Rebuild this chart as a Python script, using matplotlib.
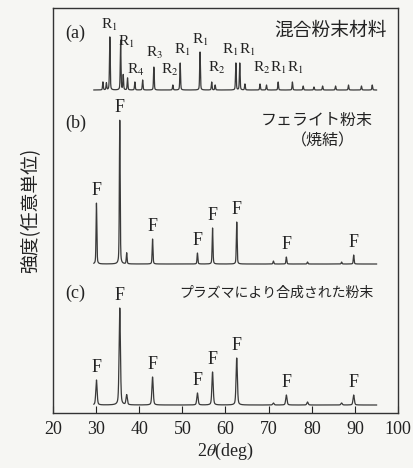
import numpy as np
import matplotlib.pyplot as plt

plt.rcParams['font.family'] = ['Liberation Serif', 'Noto Sans CJK JP']
plt.rcParams['mathtext.fontset'] = 'stix'

# 2theta range of the scans
two_theta = np.linspace(29.5, 95, 4000)

# (a) mixed powder: peak positions (deg) and heights
pos_a = [31.6, 32.4, 33.2, 35.7, 36.3, 37.3, 39.0, 40.8, 43.4, 47.8, 49.5, 54.1,
         56.8, 57.6, 62.4, 63.3, 64.5, 68.0, 69.5, 72.2, 75.5, 78.0, 80.5, 82.5,
         85.5, 88.5, 91.5, 94.0]
h_a = [8, 7, 53, 50, 15, 12, 8, 10, 23, 5, 27, 38,
       8, 5, 27, 27, 6, 6, 5, 8, 8, 4, 3, 4,
       4, 5, 4, 5]
base_a = 323
lab_a = ['R$_1$', 'R$_1$', 'R$_4$', 'R$_3$', 'R$_2$', 'R$_1$', 'R$_1$', 'R$_2$',
         'R$_1$', 'R$_1$', 'R$_2$', 'R$_1$', 'R$_1$']
lab_a_x = [33.0, 37.0, 39.2, 43.6, 47.0, 49.9, 54.1, 58.0, 61.1, 65.0, 68.3, 72.2, 76.1]
lab_a_y = [388, 371, 343, 360, 343, 363, 373, 345, 363, 363, 345, 345, 345]

# (b) sintered ferrite powder
pos_b = [30.1, 35.5, 37.1, 43.1, 53.5, 57.0, 62.6, 71.1, 74.1, 79.0, 86.9, 89.7]
h_b = [61, 144, 11, 25, 11, 36, 42, 3, 7, 2, 2, 9]
base_b = 149

# (c) plasma-synthesized powder
pos_c = [30.1, 35.5, 37.1, 43.1, 53.5, 57.0, 62.6, 71.1, 74.1, 79.0, 86.9, 89.7]
h_c = [25, 97, 10, 28, 12, 33, 47, 2, 10, 3, 2, 10]
base_c = 8
f_labelled = [30.1, 35.5, 43.1, 53.5, 57.0, 62.6, 74.1, 89.7]


def pattern(pos, h, base, w):
    y = np.full_like(two_theta, base, dtype=float)
    for p, a in zip(pos, h):
        d = (two_theta - p) / w
        y += a * (0.6 * np.exp(-np.log(2) * d ** 2) + 0.4 / (1 + d ** 2))
    return y


fig = plt.figure(figsize=(4.13, 4.68), dpi=100, facecolor='#f6f6f3')
ax = fig.add_axes([0.128, 0.1175, 0.836, 0.8654])
ax.set_facecolor('#f6f6f3')

lc = '#3a3a3a'
ax.plot(two_theta, pattern(pos_a, h_a, base_a, 0.1), color=lc, lw=0.9)
ax.plot(two_theta, pattern(pos_b, h_b, base_b, 0.11), color=lc, lw=0.9)
ax.plot(two_theta, pattern(pos_c, h_c, base_c, 0.18), color=lc, lw=0.9)

for t, x, y in zip(lab_a, lab_a_x, lab_a_y):
    ax.text(x, y, t, fontsize=11, ha='center', va='center', color='#222')

for pos, h, base in [(pos_b, h_b, base_b), (pos_c, h_c, base_c)]:
    for p, a in zip(pos, h):
        if p in f_labelled:
            ax.text(p, base + a + 13, 'F', fontsize=13, ha='center', va='center', color='#222')

ax.text(22.8, 380, '(a)', fontsize=13, ha='left', va='center', color='#222')
ax.text(22.8, 290, '(b)', fontsize=13, ha='left', va='center', color='#222')
ax.text(22.8, 120, '(c)', fontsize=13, ha='left', va='center', color='#222')
ax.text(97.3, 383, '混合粉末材料', fontsize=13.5, ha='right', va='center',
        family=['Noto Sans CJK JP'], color='#222')
ax.text(94.2, 293, 'フェライト粉末', fontsize=11.5, ha='right', va='center',
        family=['Noto Sans CJK JP'], color='#222')
ax.text(82.5, 272, '（焼結）', fontsize=11.5, ha='center', va='center',
        family=['Noto Sans CJK JP'], color='#222')
ax.text(94.2, 120, 'プラズマにより合成された粉末', fontsize=10, ha='right', va='center',
        family=['Noto Sans CJK JP'], color='#222')

ax.set_xlim(20, 100)
ax.set_ylim(0, 405)
ax.set_xticks(range(20, 101, 10))
ax.set_yticks([])
ax.tick_params(axis='x', direction='in', length=5, labelsize=13, pad=6, colors='#222')
for s in ax.spines.values():
    s.set_color('#333')
    s.set_linewidth(1.0)

ax.set_xlabel(r'2$\theta$(deg)', fontsize=13, labelpad=2, color='#222')
ax.set_ylabel('強度(任意単位)', fontsize=13.5, family=['Noto Sans CJK JP'],
              labelpad=8, color='#222')

fig.savefig('out.png', dpi=100, facecolor=fig.get_facecolor())
